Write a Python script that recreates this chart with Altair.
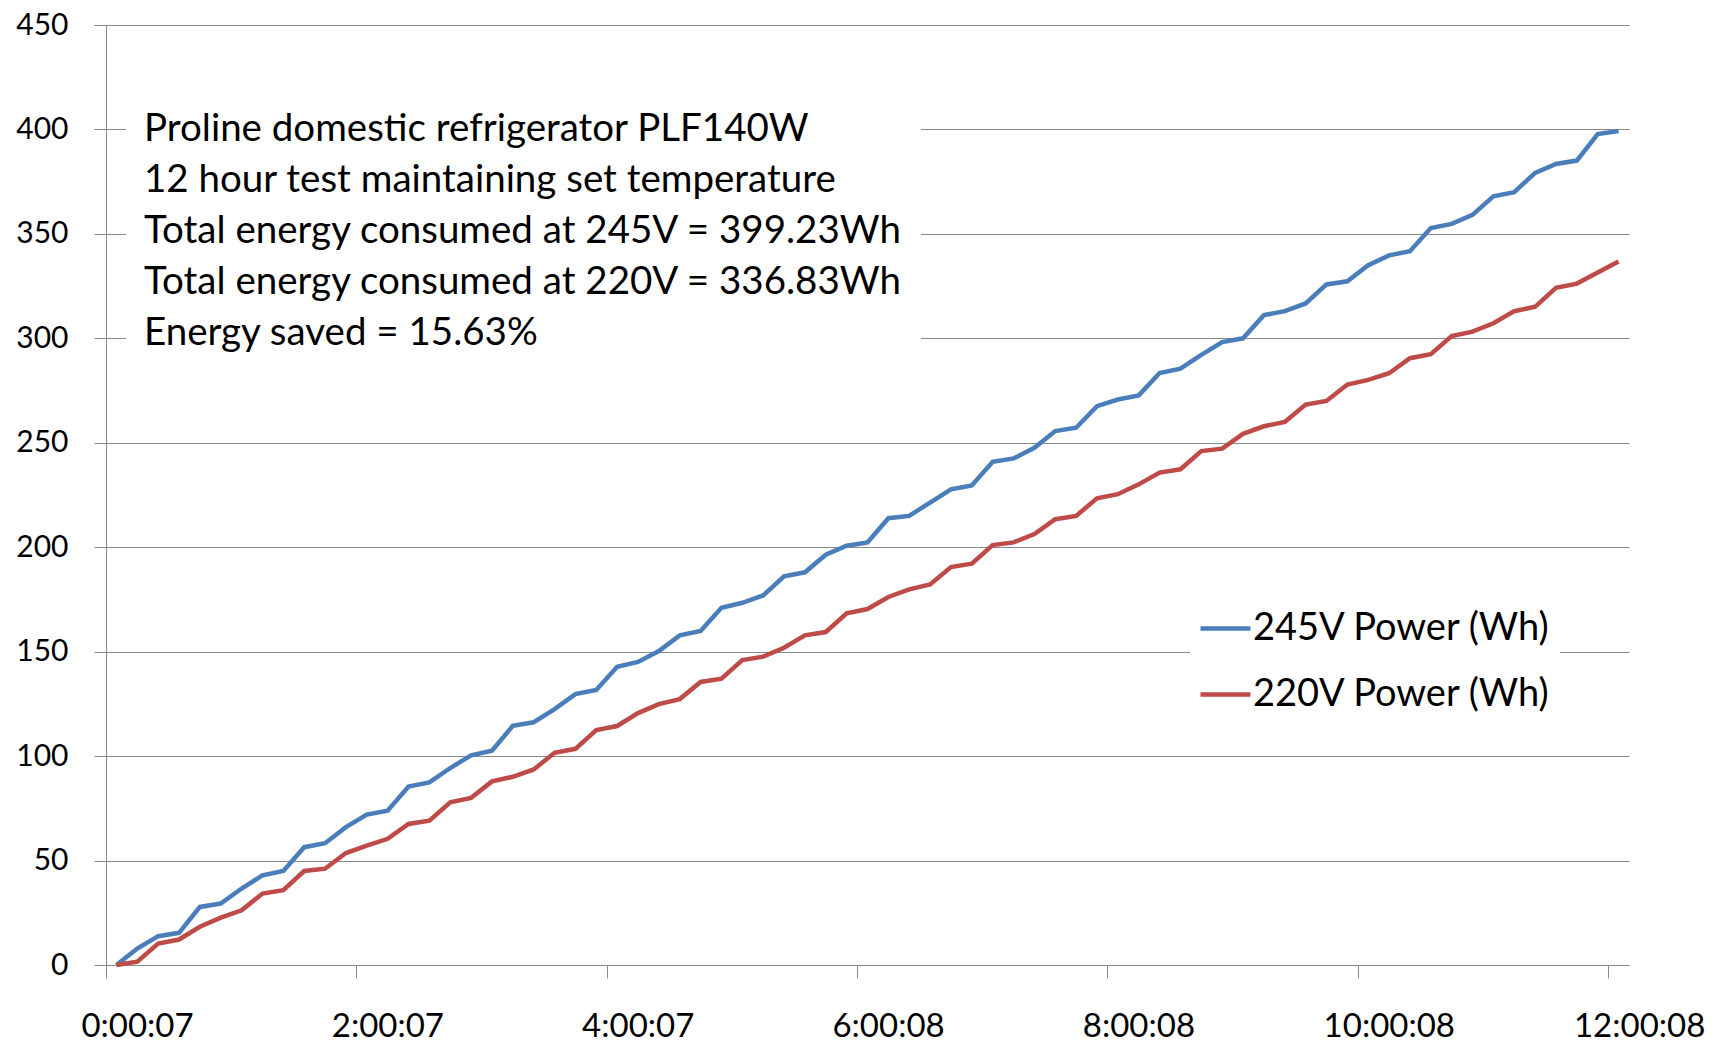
import json
import altair as alt
import pandas as pd

# ---- data ----
series_names = ["245V Power (Wh)", "220V Power (Wh)"]
series_colors = ["#4A7EBB", "#BE4B48"]

power_245 = [
    0.0, 7.9, 13.8, 15.4, 27.8, 29.4, 36.6, 42.9, 45.0, 56.4,
    58.3, 66.0, 72.0, 73.9, 85.4, 87.4, 94.3, 100.4, 102.6, 114.5,
    116.2, 122.5, 129.7, 131.7, 142.8, 145.1, 150.3, 157.8, 159.9, 171.0,
    173.4, 176.9, 186.1, 188.0, 196.4, 200.7, 202.3, 213.9, 215.0, 221.4,
    227.7, 229.6, 240.9, 242.5, 247.6, 255.6, 257.2, 267.5, 270.7, 272.7,
    283.4, 285.5, 292.1, 298.2, 300.0, 311.1, 313.0, 316.7, 325.8, 327.3,
    335.0, 339.7, 341.7, 352.8, 354.8, 359.1, 368.0, 370.0, 379.2, 383.5,
    385.1, 397.8, 399.23,
]
power_220 = [
    0.0, 1.6, 10.3, 12.2, 18.3, 22.7, 26.2, 34.2, 35.8, 45.0,
    46.1, 53.6, 57.2, 60.4, 67.5, 69.1, 77.9, 80.0, 87.9, 90.1,
    93.6, 101.6, 103.5, 112.5, 114.4, 120.6, 124.9, 127.3, 135.5, 137.1,
    146.0, 147.6, 151.9, 157.8, 159.4, 168.4, 170.4, 176.2, 179.8, 182.2,
    190.5, 192.1, 201.0, 202.3, 206.3, 213.4, 215.0, 223.4, 225.4, 230.1,
    235.7, 237.3, 246.0, 247.2, 254.3, 257.9, 260.0, 268.3, 270.0, 277.9,
    280.1, 283.3, 290.5, 292.4, 301.1, 303.2, 307.2, 313.0, 315.1, 324.2,
    326.2, 331.5, 336.83,
]
x_tick_labels = ["0:00:07", "2:00:07", "4:00:07", "6:00:08", "8:00:08", "10:00:08", "12:00:08"]
y_ticks = [0, 50, 100, 150, 200, 250, 300, 350, 400, 450]
note_lines = [
    "Proline domestic refrigerator PLF140W",
    "12 hour test maintaining set temperature",
    "Total energy consumed at 245V = 399.23Wh",
    "Total energy consumed at 220V = 336.83Wh",
    "Energy saved = 15.63%",
]

FONT = "Lato"
GRID = "#8a8a8a"

rows = []
for i, v in enumerate(power_245):
    rows.append({"idx": i, "value": v, "series": series_names[0]})
for i, v in enumerate(power_220):
    rows.append({"idx": i, "value": v, "series": series_names[1]})
df = pd.DataFrame(rows)

n = len(power_245)
tick_vals = [-0.5 + 12 * k for k in range(len(x_tick_labels))]
label_expr = f"{json.dumps(x_tick_labels)}[round((datum.value + 0.5) / 12)]"

lines = alt.Chart(df).mark_line(strokeWidth=4.5).encode(
    x=alt.X(
        "idx:Q",
        scale=alt.Scale(domain=[-0.5, n - 0.5], nice=False, zero=False),
        axis=alt.Axis(
            values=tick_vals, labelExpr=label_expr, grid=False, title=None,
            tickSize=13, labelOffset=31, labelPadding=32, labelFontSize=33,
            labelFont=FONT, labelColor="#000000", labelFlush=False,
            labelOverlap=False, domainColor=GRID, tickColor=GRID,
        ),
    ),
    y=alt.Y(
        "value:Q",
        scale=alt.Scale(domain=[0, 450], nice=False),
        axis=alt.Axis(
            values=y_ticks, grid=True, gridColor=GRID, title=None,
            tickSize=12, labelPadding=26, labelFontSize=30, labelFont=FONT,
            labelColor="#000000", domainColor=GRID, tickColor=GRID,
        ),
    ),
    color=alt.Color(
        "series:N",
        scale=alt.Scale(domain=series_names, range=series_colors),
        legend=alt.Legend(
            title=None, orient="none", legendX=1084, legendY=568,
            padding=8, fillColor="white", strokeColor="white",
            symbolType="stroke", symbolSize=2500, symbolStrokeWidth=4.5,
            labelFont=FONT, labelFontSize=38, labelColor="#000000",
            labelOffset=0, rowPadding=19, labelLimit=0,
        ),
    ),
)

box = alt.Chart(alt.Data(values=[{"k": 1}])).mark_rect(fill="white").encode(
    x=alt.value(20), x2=alt.value(815), y=alt.value(69), y2=alt.value(332)
)

notes = pd.DataFrame({"line": note_lines, "row": list(range(len(note_lines)))})
text = alt.Chart(notes).mark_text(
    align="left", baseline="middle", font=FONT, fontSize=38.5, color="#000000"
).transform_calculate(
    py="104 + 51 * datum.row"
).encode(
    x=alt.value(38),
    y=alt.Y("py:Q", scale=None),
    text="line:N",
)

chart = alt.layer(box, lines, text).properties(
    width=1523,
    height=940,
    autosize=alt.AutoSizeParams(type="none"),
    padding={"left": 98, "top": 17, "right": 83, "bottom": 80},
    background="white",
).configure_view(stroke=None)

chart.save("out.html", embed_options={"renderer": "svg", "actions": False})
